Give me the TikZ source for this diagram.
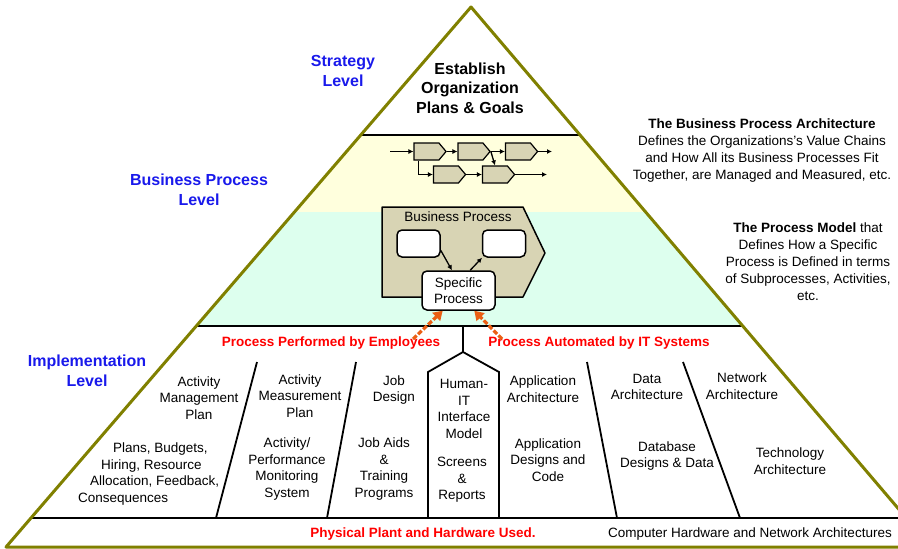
\documentclass[tikz,border=0pt]{standalone}
\usepackage{fontspec}
\setsansfont{Liberation Sans}
\usepackage{tikz}
\usetikzlibrary{positioning,arrows.meta,shapes.symbols,calc}
\usepackage{xcolor}
\definecolor{pyrolive}{RGB}{128,128,0}
\definecolor{bandyellow}{RGB}{255,255,221}
\definecolor{bandcyan}{RGB}{221,255,238}
\definecolor{bptan}{RGB}{216,212,180}
\definecolor{lvlblue}{RGB}{25,25,235}
\definecolor{arrorange}{RGB}{235,95,20}

\begin{document}
\begin{tikzpicture}[x=1pt,y=-1pt]

\sffamily
\tikzstyle{basenode}=[align=center, inner sep=0pt, font=\fontsize{13.5}{16.5}\selectfont];
\tikzstyle{lvllabel}=[basenode, lvlblue, font=\fontsize{16}{19.5}\selectfont\bfseries];
\tikzstyle{goaltxt}=[basenode, font=\fontsize{16}{19.5}\selectfont\bfseries];
\tikzstyle{redtxt}=[basenode, red, font=\fontsize{13.5}{16.5}\selectfont\bfseries];
\tikzstyle{sidenote}=[basenode, font=\fontsize{13.5}{17}\selectfont];
\tikzstyle{chainbox}=[signal, signal to=east, signal pointer angle=100, draw, fill=bptan, line width=1.2pt, minimum height=17pt, minimum width=32pt, inner sep=0pt];
\tikzstyle{subbox}=[basenode, draw, fill=white, rounded corners=5pt, line width=1.5pt, minimum width=43pt, minimum height=27pt];
\tikzstyle{basearr}=[line width=1.3pt, black];
\tikzstyle{arr}=[basearr, -{Latex[length=5pt,width=5pt]}];
\tikzstyle{orgarr}=[line width=3.2pt, arrorange, dash pattern=on 5pt off 2pt, -{Triangle[length=9pt,width=11pt]}];
\tikzstyle{bandline}=[line width=2.6pt, black];
\tikzstyle{divider}=[line width=1.8pt, black];

\useasboundingbox (0,0) rectangle (898,549);

\begin{scope}
\clip (0,0) rectangle (898,549);
\fill[white] (471,7) -- (6,547) -- (931,547) -- cycle;
\begin{scope}
\clip (471,7) -- (6,547) -- (931,547) -- cycle;
\fill[bandyellow] (0,136) rectangle (898,212);
\fill[bandcyan] (0,212) rectangle (898,326);
\draw[bandline] (0,135) -- (898,135);
\draw[bandline] (0,326) -- (898,326);
\draw[divider] (0,518) -- (898,518);
\end{scope}
\draw[pyrolive, line width=3pt, line join=round] (471,7) -- (6,547) -- (931,547) -- cycle;
\end{scope}

\node[lvllabel] (strat) at (343,71) {Strategy\\Level};
\node[lvllabel] (bplevel) at (199,190) {Business Process\\Level};
\node[lvllabel] (impl) at (87,371) {Implementation\\Level};
\node[goaltxt] (goals) at (470,88) {Establish\\Organization\\Plans \& Goals};

\node[sidenote] (bpanote) at (762,151) {\textbf{The Business Process Architecture}\\Defines the Organizations's Value Chains\\and How All its Business Processes Fit\\Together, are Managed and Measured, etc.};
\node[sidenote] (pmnote) at (808,262) {\textbf{The Process Model} that\\Defines How a Specific\\Process is Defined in terms\\of Subprocesses, Activities,\\etc.};

% value chain
\node[chainbox] (c1) at (426.5,151.5) {};
\node[chainbox] (c2) at (470.5,151.5) {};
\node[chainbox] (c3) at (518,151.5) {};
\node[chainbox] (c4) at (446,174.5) {};
\node[chainbox] (c5) at (495,174.5) {};
\coordinate (chin) at (390,151.5);
\coordinate (chout1) at (552,151.5);
\coordinate (chout2) at (547,174.5);
\draw[arr] (chin) -- (c1);
\draw[arr] (c1) -- (c2);
\draw[arr] (c2) -- (c3);
\draw[arr] (c3) -- (chout1);
\draw[arr] ($(c1.south)+(-8,0)$) |- (c4);
\draw[arr] (c4) -- (c5);
\draw[arr] (c5) -- (chout2);
\draw[arr] (c2.east) -- (c5.north);

\draw[fill=bptan, line width=1.5pt, line join=round] (382,207) -- (523,207) -- (545,253) -- (523,297) -- (382,297) -- cycle;
\node[basenode] (bplabel) at (458,217) {Business Process};
\node[subbox] (sub1) at (418.5,243.5) {};
\node[subbox] (sub2) at (504,243.5) {};
\node[subbox, minimum width=73pt, minimum height=39pt] (spec) at (458.5,290.5) {Specific\\Process};
\draw[arr] (sub1.-17) -- (spec.108);
\draw[arr] (spec.60) -- (sub2.213);

\node[redtxt] (emp) at (331,343) {Process Performed by Employees};
\node[redtxt] (auto) at (599,343) {Process Automated by IT Systems};
\coordinate (empsrc) at (413,339);
\coordinate (autosrc) at (502,339);
\draw[orgarr] (empsrc) -- (spec.-128);
\draw[orgarr] (autosrc) -- (spec.-52);

\draw[divider] (463,326) -- (463,352);
\draw[divider] (428,518) -- (428,372) -- (463,352) -- (499,372) -- (499,518);
\draw[divider] (257,362) -- (216,518);
\draw[divider] (356,362) -- (327,518);
\draw[divider] (587,362) -- (617,518);
\draw[divider] (683,362) -- (740,518);

\node[basenode] (amplan) at (199,398) {Activity\\Management\\Plan};
\node[basenode, align=left, anchor=west] (plans) at (78,474) {\hspace*{35pt}Plans, Budgets,\\\hspace*{23pt}Hiring, Resource\\\hspace*{12pt}Allocation, Feedback,\\Consequences};
\node[basenode] (measplan) at (300,396) {Activity\\Measurement\\Plan};
\node[basenode] (monsys) at (287,469) {Activity/\\Performance\\Monitoring\\System};
\node[basenode] (jobdes) at (394,390) {Job\\Design};
\node[basenode] (jobaids) at (384,469) {Job Aids\\\&\\Training\\Programs};
\node[basenode] (hitmodel) at (464,409) {Human-\\IT\\Interface\\Model};
\node[basenode] (screens) at (462,480) {Screens\\\&\\Reports};
\node[basenode] (apparch) at (543,389) {Application\\Architecture};
\node[basenode] (appdes) at (548,460) {Application\\Designs and\\Code};
\node[basenode] (dataarch) at (647,387) {Data\\Architecture};
\node[basenode] (dbdes) at (667,456) {Database\\Designs \& Data};
\node[basenode] (netarch) at (742,386) {Network\\Architecture};
\node[basenode] (techarch) at (790,461) {Technology\\Architecture};

\node[redtxt] (plant) at (423,534) {Physical Plant and Hardware Used.};
\node[basenode] (hwarch) at (750,534) {Computer Hardware and Network Architectures};

\end{tikzpicture}
\end{document}
